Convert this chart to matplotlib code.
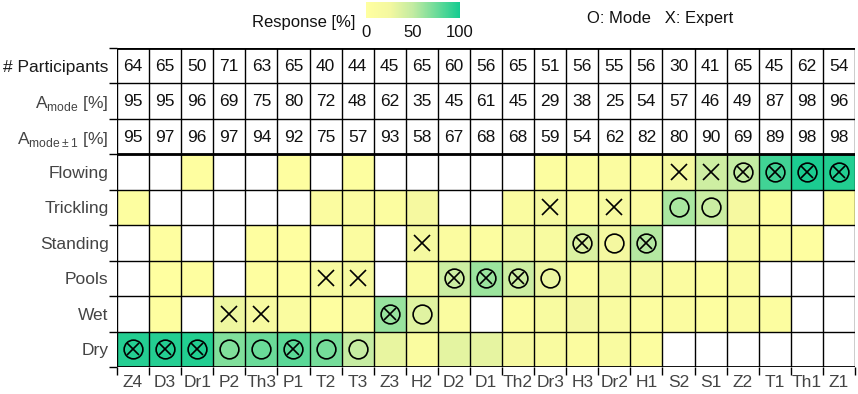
import numpy as np
import matplotlib
matplotlib.use("Agg")
import matplotlib.pyplot as plt
from matplotlib.colors import LinearSegmentedColormap

plt.rcParams['font.family'] = ['Liberation Sans', 'DejaVu Sans']

sites = ['Z4', 'D3', 'Dr1', 'P2', 'Th3', 'P1', 'T2', 'T3', 'Z3', 'H2', 'D2', 'D1',
         'Th2', 'Dr3', 'H3', 'Dr2', 'H1', 'S2', 'S1', 'Z2', 'T1', 'Th1', 'Z1']
classes = ['Flowing', 'Trickling', 'Standing', 'Pools', 'Wet', 'Dry']

participants = [64, 65, 50, 71, 63, 65, 40, 44, 45, 65, 60, 56, 65, 51, 56, 55, 56, 30, 41, 65, 45, 62, 54]
a_mode = [95, 95, 96, 69, 75, 80, 72, 48, 62, 35, 45, 61, 45, 29, 38, 25, 54, 57, 46, 49, 87, 98, 96]
a_mode1 = [95, 97, 96, 97, 94, 92, 75, 57, 93, 58, 67, 68, 68, 59, 54, 62, 82, 80, 90, 69, 89, 98, 98]

# response share per class (rows) and site (columns), %
flowing = [0, 0, 2, 0, 0, 3, 0, 5, 0, 0, 0, 0, 0, 8, 6, 10, 6, 23, 44, 49, 87, 98, 96]
trickling = [5, 0, 0, 0, 0, 0, 10, 10, 7, 20, 0, 0, 12, 20, 8, 18, 10, 57, 46, 20, 2, 0, 2]
standing = [0, 2, 0, 0, 3, 3, 0, 10, 0, 22, 10, 7, 15, 15, 38, 25, 54, 0, 0, 12, 5, 2, 0]
pools = [0, 1, 2, 0, 3, 2, 15, 18, 0, 12, 45, 61, 45, 29, 8, 19, 18, 10, 5, 10, 0, 0, 0]
wet = [0, 2, 0, 28, 19, 12, 3, 9, 62, 35, 12, 0, 8, 15, 24, 14, 6, 10, 5, 9, 6, 0, 0]
dry = [95, 95, 96, 69, 75, 80, 72, 48, 31, 11, 33, 32, 20, 13, 10, 14, 6, 0, 0, 0, 0, 0, 0]

mode_class = ['Dry', 'Dry', 'Dry', 'Dry', 'Dry', 'Dry', 'Dry', 'Dry', 'Wet', 'Wet', 'Pools', 'Pools',
              'Pools', 'Pools', 'Standing', 'Standing', 'Standing', 'Trickling', 'Trickling',
              'Flowing', 'Flowing', 'Flowing', 'Flowing']
expert_class = ['Dry', 'Dry', 'Dry', 'Wet', 'Wet', 'Dry', 'Pools', 'Pools', 'Wet', 'Standing', 'Pools',
                'Pools', 'Pools', 'Trickling', 'Standing', 'Trickling', 'Standing', 'Flowing',
                'Flowing', 'Flowing', 'Flowing', 'Flowing', 'Flowing']

row_labels = ['# Participants', r'A$_{\mathregular{mode}}$ [%]', r'A$_{\mathregular{mode\pm1}}$ [%]'] + classes

cmap = LinearSegmentedColormap.from_list(
    'resp', [(0, '#ffffa0'), (0.25, '#f4f8a0'), (0.5, '#c2eba2'), (1.0, '#14cb90')])

W, H = 858, 394
fig = plt.figure(figsize=(W / 100, H / 100), dpi=100)
ax = fig.add_axes([117 / W, (H - 367) / H, 738 / W, 319 / H])

n = len(sites)
heat = np.array([flowing, trickling, standing, pools, wet, dry], dtype=float)
heat_m = np.ma.masked_equal(heat, 0)
mesh = ax.pcolormesh(np.arange(n + 1), np.arange(3, 10), heat_m, cmap=cmap, vmin=0, vmax=100)

# table rows
for j in range(n):
    for i, vals in enumerate([participants, a_mode, a_mode1]):
        ax.text(j + 0.5, i + 0.52, str(vals[j]), ha='center', va='center', fontsize=12.5, color='#111111')

# markers
for j in range(n):
    m = classes.index(mode_class[j]) + 3.5
    e = classes.index(expert_class[j]) + 3.5
    ax.plot(j + 0.5, m, marker='o', ms=13.5, mfc='none', mec='black', mew=1.2)
    if e == m:
        ax.plot(j + 0.5, e, marker='x', ms=8.5, mec='black', mew=1.2)
    else:
        ax.plot(j + 0.5, e, marker='x', ms=12, mec='black', mew=1.2)

# grid
ax.vlines(np.arange(n + 1), 0, 9, color='black', lw=1)
ax.hlines(np.arange(10), 0, n, color='black', lw=1)
ax.hlines([0, 3, 9], 0, n, color='black', lw=2)

ax.set_xlim(0, n)
ax.set_ylim(9, 0)
for s in ax.spines.values():
    s.set_visible(False)

ax.set_xticks(np.arange(n + 1))
ax.set_xticklabels([])
ax.set_yticks(np.arange(10))
ax.set_yticklabels([])
ax.tick_params(which='major', direction='out', length=6, width=1, color='black')
ax.set_xticks(np.arange(n) + 0.5, minor=True)
ax.set_xticklabels(sites, minor=True, fontsize=12.5, color='#444444')
ax.set_yticks(np.arange(9) + 0.5, minor=True)
ax.set_yticklabels(row_labels, minor=True, fontsize=12.5, color='#444444')
ax.tick_params(which='minor', length=0, pad=6)
ax.get_yticklabels(minor=True)[0].set_color('#1a1a1a')

# colorbar
cax = fig.add_axes([366 / W, (H - 18) / H, 94 / W, 16 / H])
cb = fig.colorbar(mesh, cax=cax, orientation='horizontal')
cb.outline.set_visible(False)
cb.set_ticks([0, 50, 100])
cax.tick_params(length=0, labelsize=12, pad=5, labelcolor='#111111')
fig.text(355 / W, 1 - 22 / H, 'Response [%]', ha='right', va='center', fontsize=12, color='#111111')
fig.text(587 / W, 1 - 18 / H, 'O: Mode   X: Expert', ha='left', va='center', fontsize=12, color='#111111')

fig.savefig('out.png', dpi=100)
